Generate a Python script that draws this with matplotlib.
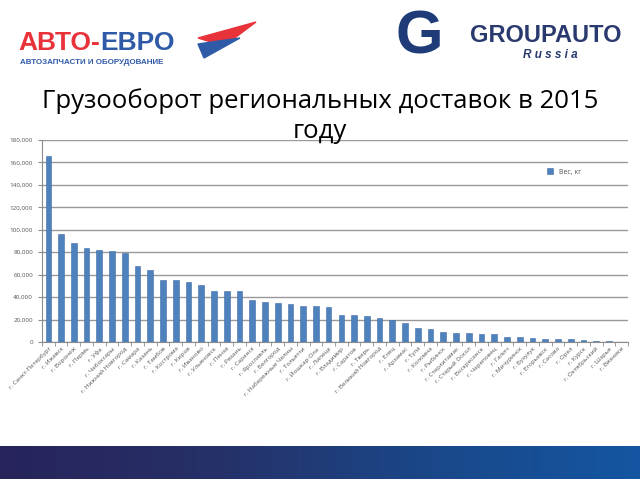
import matplotlib
matplotlib.use("Agg")
import matplotlib.pyplot as plt
import numpy as np
from matplotlib.patches import Polygon
from matplotlib.ticker import FuncFormatter, MultipleLocator
from matplotlib.colors import LinearSegmentedColormap

plt.rcParams['font.family'] = ['Open Sans', 'DejaVu Sans']

cities = ['г. Санкт-Петербург', 'г. Ижевск', 'г. Воронеж', 'г. Пермь', 'г. Уфа',
          'г. Чебоксары', 'г. Нижний Новгород', 'г. Самара', 'г. Казань', 'г. Тамбов',
          'г. Кострома', 'г. Киров', 'г. Иваново', 'г. Ульяновск', 'г. Пенза',
          'г. Рязань', 'г. Саранск', 'г. Ярославль', 'г. Белгород', 'г. Набережные Челны',
          'г. Тольятти', 'г. Йошкар-Ола', 'г. Липецк', 'г. Владимир', 'г. Саратов',
          'г. Тверь', 'г. Великий Новгород', 'г. Елец', 'г. Арзамас', 'г. Тула',
          'г. Коломна', 'г. Рыбинск', 'г. Стерлитамак', 'г. Старый Оскол', 'г. Воскресенск',
          'г. Череповец', 'г. Галич', 'г. Мичуринск', 'г. Бузулук', 'г. Егорьевск',
          'г. Сасово', 'г. Орел', 'г. Курск', 'г. Октябрьский', 'г. Шарья', 'г. Вязники']
weights = [166000, 96000, 88500, 83500, 81700, 80800, 79000, 67400, 64500, 55000,
           55000, 53200, 50800, 45800, 45500, 45800, 37400, 36000, 34800, 34200,
           31800, 31800, 30900, 24400, 24100, 23500, 21100, 19300, 16900, 12800,
           11900, 8900, 8000, 8000, 7400, 6800, 4800, 4200, 3900, 2700,
           2400, 2400, 1800, 500, 500, 400]

fig = plt.figure(figsize=(6.4, 4.8), dpi=100)

# chart
ax = fig.add_axes([42/640, 1 - 342/480, 586/640, 202/480])
x = np.arange(len(cities))
ax.bar(x, weights, width=0.45, color='#4f81bd', edgecolor='#3f6ea6', linewidth=0.4,
       label='Вес, кг', zorder=3)
ax.set_xlim(-0.5, len(cities) - 0.5)
ax.set_ylim(0, 180000)
ax.yaxis.set_major_locator(MultipleLocator(20000))
ax.yaxis.set_major_formatter(FuncFormatter(lambda v, p: f'{int(v):,}'))
ax.grid(axis='y', color='#999999', linewidth=1.0, zorder=0)
ax.set_xticks(x)
ax.set_xticklabels(cities, rotation=45, ha='right', rotation_mode='anchor',
                   fontsize=4.5, color='#555555')
ax.set_xticks(np.arange(-0.5, len(cities)), minor=True)
ax.tick_params(axis='x', which='major', length=0, pad=3)
ax.tick_params(axis='x', which='minor', length=3, color='#8c8c8c')
ax.tick_params(axis='y', labelsize=4.5, labelcolor='#555555', length=3, color='#8c8c8c')
for s in ['top', 'right']:
    ax.spines[s].set_visible(False)
for s in ['left', 'bottom']:
    ax.spines[s].set_color('#8c8c8c')
ax.legend(loc='upper right', bbox_to_anchor=(0.93, 0.89), frameon=False,
          fontsize=5, handlelength=0.8, handleheight=0.8, labelcolor='#555555')

# title
fig.text(0.5, 1 - 116/480, 'Грузооборот региональных доставок в 2015\nгоду',
         ha='center', va='center', fontsize=18.5, linespacing=1.28)

# logo АВТО-ЕВРО
logo_font = ['Liberation Sans', 'DejaVu Sans']
t1 = fig.text(18/640, 1 - 43/480, 'АВТО-', color='#e8333a', fontsize=19,
              fontweight='bold', va='center', family=logo_font)
fig.canvas.draw()
bb = t1.get_window_extent()
fig.text(bb.x1 / 640, 1 - 43/480, 'ЕВРО', color='#2e5aa8', fontsize=19,
         fontweight='bold', va='center', family=logo_font)
fig.text(20/640, 1 - 62/480, 'АВТОЗАПЧАСТИ И ОБОРУДОВАНИЕ', color='#2e5aa8',
         fontsize=5.8, fontweight='bold', va='center', family=logo_font)
fig.patches.append(Polygon([(198/640, 1 - 38/480), (256/640, 1 - 22/480),
                            (224/640, 1 - 46/480)], closed=True, color='#e8333a',
                           transform=fig.transFigure))
fig.patches.append(Polygon([(198/640, 1 - 44/480), (240/640, 1 - 38/480),
                            (204/640, 1 - 58/480)], closed=True, color='#2e5aa8',
                           transform=fig.transFigure))

# logo GROUPAUTO
fig.text(396/640, 1 - 38/480, 'G', color='#1f3c78', fontsize=44, fontweight='bold',
         va='center', family=logo_font)
fig.text(470/640, 1 - 36/480, 'GROUPAUTO', color='#2a3a6e', fontsize=17,
         fontweight='bold', va='center', family=logo_font)
fig.text(550/640, 1 - 55/480, 'R u s s i a', color='#2a3a6e', fontsize=8.5,
         fontweight='bold', fontstyle='italic', ha='center', va='center',
         family=logo_font)

# bottom band
band = fig.add_axes([0, 1 - 479/480, 1, 33/480])
grad = np.linspace(0, 1, 256).reshape(1, -1)
cmap = LinearSegmentedColormap.from_list('band', ['#27245a', '#263068', '#1a4788', '#1456a2'])
band.imshow(grad, aspect='auto', cmap=cmap)
band.axis('off')

fig.savefig('out.png', dpi=100)
